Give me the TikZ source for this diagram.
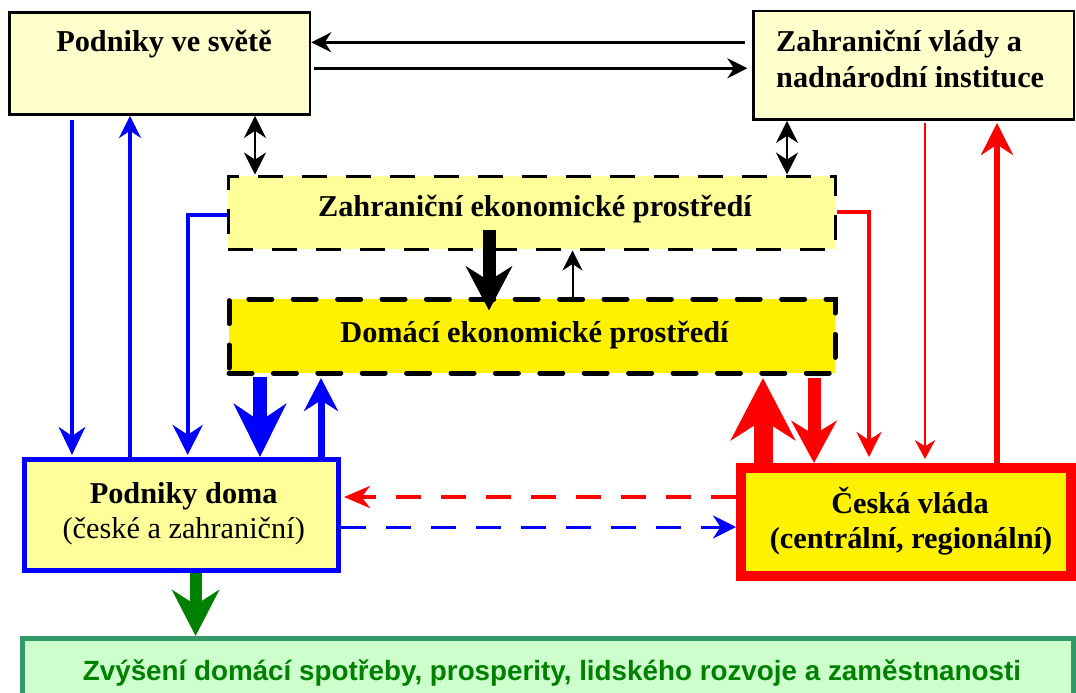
\documentclass[tikz,border=0pt]{standalone}
\usepackage{fontspec}
\setmainfont{Liberation Serif}
\newfontfamily\arialf{Liberation Sans}
\usetikzlibrary{arrows.meta}
\definecolor{lyel}{HTML}{FFFFCC}
\definecolor{myel}{HTML}{FFFF99}
\definecolor{gfill}{HTML}{CCFFCC}
\definecolor{gline}{HTML}{339966}
\definecolor{gtext}{HTML}{008000}
\tikzset{
  ar/.style n args={3}{line width=#1, -{Stealth[length=#2, width=#3]}},
  tb/.style={font=\fontsize{30.3}{36}\selectfont\bfseries, inner sep=0pt, anchor=base},
  tr/.style={font=\fontsize{30.3}{36}\selectfont, inner sep=0pt, anchor=base},
}
\begin{document}
\begin{tikzpicture}[x=1pt,y=-1pt]
\useasboundingbox (0,0) rectangle (1076,693);
\clip (0,0) rectangle (1076,693);
% boxes
\node[draw, line width=2.5pt, fill=lyel, minimum width=300.4pt, minimum height=102pt, inner sep=0pt] (box1) at (159.8,63.7) {};
\node[draw, line width=2.5pt, fill=lyel, minimum width=320.4pt, minimum height=108.7pt, inner sep=0pt] (box2) at (913.8,65.35) {};
\node[draw, line width=3pt, dash pattern=on 25pt off 19pt, fill=myel, minimum width=607pt, minimum height=73pt, inner sep=0pt] (zahr) at (531.5,212.5) {};
\node[draw, line width=5pt, dash pattern=on 23pt off 21.4pt, line cap=round, fill=yellow, minimum width=606pt, minimum height=74pt, inner sep=0pt] (domaci) at (532,336) {};
\node[draw=blue, line width=5pt, fill=myel, minimum width=314.3pt, minimum height=111pt, inner sep=0pt] (doma) at (181.35,515) {};
\node[draw=red, line width=10pt, fill=yellow, minimum width=330pt, minimum height=108pt, inner sep=0pt] (vlada) at (906,522) {};
\node[draw=gline, line width=5pt, fill=gfill, minimum width=1051pt, minimum height=81.5pt, inner sep=0pt] (green) at (547.5,679.25) {};
% texts
\node[tb] (t1) at (164,52) {Podniky ve světě};
\node[tb, anchor=base west] (t2a) at (776,52) {Zahraniční vlády a};
\node[tb, anchor=base west] (t2b) at (776,87) {nadnárodní instituce};
\node[tb] (t3) at (535,216) {Zahraniční ekonomické prostředí};
\node[tb] (t4) at (534.5,342) {Domácí ekonomické prostředí};
\node[tb] (t5a) at (183.7,503) {Podniky doma};
\node[tr] (t5b) at (183.7,538) {(české a zahraniční)};
\node[tb] (t6a) at (910,513) {Česká vláda};
\node[tb] (t6b) at (911,548) {(centrální, regionální)};
\node[font=\arialf\fontsize{27.8}{33}\selectfont\bfseries, text=gtext, inner sep=0pt, anchor=base] (t7) at (552,680) {Zvýšení domácí spotřeby, prosperity, lidského rozvoje a zaměstnanosti};
% black connectors
\draw[ar={2.5pt}{20pt}{20pt}, shorten <=7pt] (box2.west |- 0,42.3) -- (box1.east |- 0,42.3);
\draw[ar={2.5pt}{20pt}{20pt}, shorten <=3pt, shorten >=5pt] (box1.east |- 0,68.3) -- (box2.west |- 0,68.3);
\draw[line width=2.5pt, {Stealth[length=22pt,width=22pt]}-{Stealth[length=22pt,width=22pt]}] (255,0 |- box1.south) -- (255,0 |- zahr.north);
\draw[line width=2.5pt, {Stealth[length=22pt,width=22pt]}-{Stealth[length=22pt,width=22pt]}] (787,0 |- box2.south) -- (787,0 |- zahr.north);
\draw[ar={13pt}{44pt}{46pt}, shorten <=-21pt, shorten >=-14pt] (489,0 |- zahr.south) -- (489,0 |- domaci.north);
\draw[ar={2pt}{20pt}{20pt}] (572.5,0 |- domaci.north) -- (572.5,0 |- zahr.south);
% blue connectors
\draw[blue, ar={4.5pt}{28pt}{26.5pt}, shorten <=4pt, shorten >=2pt] (72,0 |- box1.south) -- (72,0 |- doma.north);
\draw[blue, ar={3.5pt}{22pt}{22pt}] (130,0 |- doma.north) -- (130,0 |- box1.south);
\draw[blue, ar={4pt}{30pt}{30pt}, shorten >=2pt] (zahr.west |- 0,215) -| (187.7,0 |- doma.north);
\draw[blue, ar={14pt}{53pt}{52pt}, shorten <=1.5pt] (260,0 |- domaci.south) -- (260,0 |- doma.north);
\draw[blue, ar={7pt}{33pt}{34pt}, shorten >=2.5pt] (321,0 |- doma.north) -- (321,0 |- domaci.south);
\draw[blue, ar={3pt}{23pt}{23pt}, dash pattern=on 25pt off 20pt] (doma.east |- 0,527) -- (vlada.west |- 0,527);
% red connectors
\draw[red, ar={3.5pt}{25pt}{25pt}, shorten >=6pt] (zahr.east |- 0,212) -| (869,0 |- vlada.north);
\draw[red, ar={2pt}{19pt}{20.5pt}, shorten <=2pt, shorten >=4pt] (925,0 |- box2.south) -- (925,0 |- vlada.north);
\draw[red, ar={5.7pt}{32pt}{32pt}, shorten >=2pt] (997,0 |- vlada.north) -- (997,0 |- box2.south);
\draw[red, ar={19pt}{62pt}{64pt}, shorten >=2.5pt] (763,0 |- vlada.north) -- (763,0 |- domaci.south);
\draw[red, ar={13pt}{42pt}{45pt}, shorten <=2.5pt] (814,0 |- domaci.south) -- (814,0 |- vlada.north);
\draw[red, ar={4pt}{26pt}{22pt}, dash pattern=on 25pt off 20pt, shorten >=3pt] (vlada.west |- 0,497) -- (doma.east |- 0,497);
% green connector
\draw[gtext, ar={12pt}{46pt}{47pt}] (195.6,0 |- doma.south) -- (195.6,0 |- green.north);
\end{tikzpicture}
\end{document}
